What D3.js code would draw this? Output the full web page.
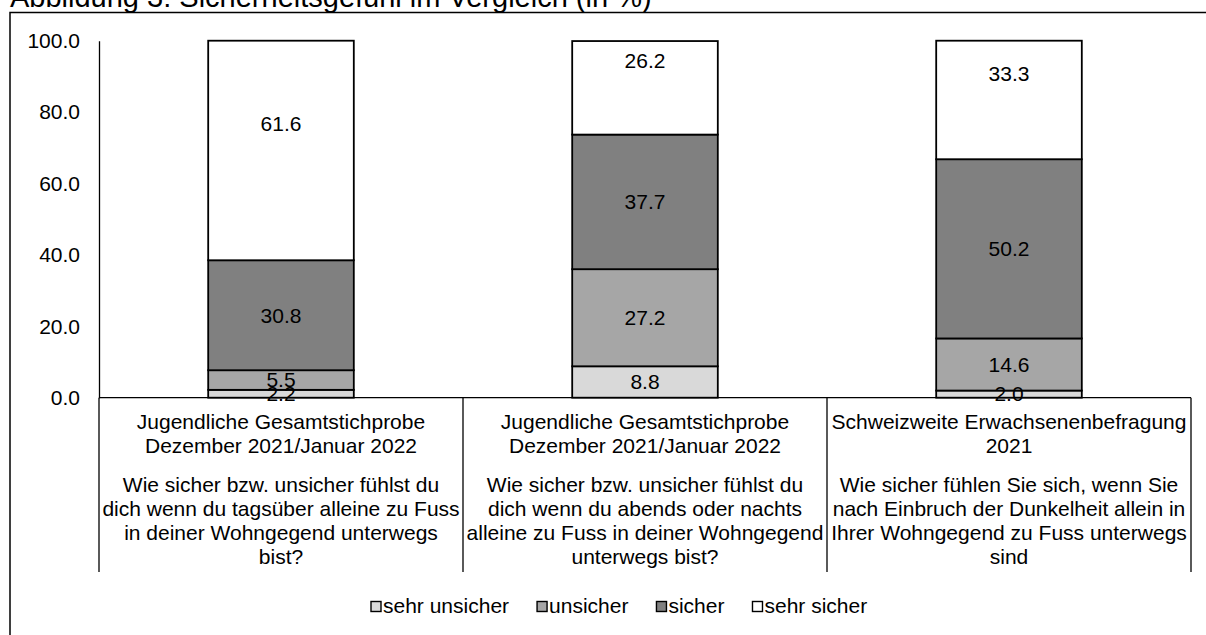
<!DOCTYPE html>
<html>
<head>
<meta charset="utf-8">
<script src="https://cdn.jsdelivr.net/npm/d3@7"></script>
<style>
  body { margin: 0; background: #fff; }
  svg text { font-family: "Liberation Sans", Arial, sans-serif; fill: #000; }
</style>
</head>
<body>
<div id="chart"></div>
<script>
// data
const seriesNames = ['sehr unsicher', 'unsicher', 'sicher', 'sehr sicher'];
const sehrUnsicher = [2.2, 8.8, 2.0];
const unsicher = [5.5, 27.2, 14.6];
const sicher = [30.8, 37.7, 50.2];
const sehrSicher = [61.6, 26.2, 33.3];
const yTicks = [0, 20, 40, 60, 80, 100];

const groupLines = [
  ['Jugendliche Gesamtstichprobe', 'Dezember 2021/Januar 2022'],
  ['Jugendliche Gesamtstichprobe', 'Dezember 2021/Januar 2022'],
  ['Schweizweite Erwachsenenbefragung', '2021']
];
const questionLines = [
  ['Wie sicher bzw. unsicher fühlst du', 'dich wenn du tagsüber alleine zu Fuss', 'in deiner Wohngegend unterwegs', 'bist?'],
  ['Wie sicher bzw. unsicher fühlst du', 'dich wenn du abends oder nachts', 'alleine zu Fuss in deiner Wohngegend', 'unterwegs bist?'],
  ['Wie sicher fühlen Sie sich, wenn Sie', 'nach Einbruch der Dunkelheit allein in', 'Ihrer Wohngegend zu Fuss unterwegs', 'sind']
];

const colors = ['#d9d9d9', '#a6a6a6', '#808080', '#ffffff'];
const fs = 21;
// the top labels sit in the middle of the (clipped) segment running up to ~115
const labelCeil = 115;

const W = 1206, H = 635;
const svg = d3.select('#chart').append('svg')
    .attr('width', W).attr('height', H);

// title (cut off at the top in the original)
svg.append('text')
    .attr('x', 10).attr('y', 6.5)
    .style('font-size', '29px')
    .text('Abbildung 3: Sicherheitsgefühl im Vergleich (in %)');

// outer frame
svg.append('rect')
    .attr('x', 10).attr('y', 12.5)
    .attr('width', W + 20).attr('height', H)
    .attr('fill', 'none').attr('stroke', '#000').attr('stroke-width', 1.5);

const idx = [0, 1, 2];
const rows = idx.map(i => ({
  key: i,
  'sehr unsicher': sehrUnsicher[i],
  'unsicher': unsicher[i],
  'sicher': sicher[i],
  'sehr sicher': sehrSicher[i]
}));

const x = d3.scaleBand().domain(idx).range([99, 1191]).paddingInner(0).paddingOuter(0);
const y = d3.scaleLinear().domain([0, 100]).range([397.7, 40.7]);
const barW = x.bandwidth() * 0.4;

const stack = d3.stack().keys(seriesNames)(rows);

const g = svg.append('g');
stack.forEach((layer, li) => {
  layer.forEach((d, i) => {
    const top = Math.min(d[1], 100);
    g.append('rect')
        .attr('x', x(i) + (x.bandwidth() - barW) / 2)
        .attr('y', y(top))
        .attr('width', barW)
        .attr('height', y(d[0]) - y(top))
        .attr('fill', colors[li])
        .attr('stroke', '#000')
        .attr('stroke-width', 1.8);
  });
});
// value labels
stack.forEach((layer, li) => {
  layer.forEach((d, i) => {
    const top = li === seriesNames.length - 1 ? labelCeil : d[1];
    g.append('text')
        .attr('x', x(i) + x.bandwidth() / 2)
        .attr('y', (y(d[0]) + y(top)) / 2)
        .attr('dy', '0.35em')
        .attr('text-anchor', 'middle')
        .style('font-size', fs + 'px')
        .text(d3.format('.1f')(d[1] - d[0]));
  });
});

// y axis
const yAxis = svg.append('g')
    .attr('transform', 'translate(99,0)')
    .call(d3.axisLeft(y).tickValues(yTicks).tickFormat(d3.format('.1f')).tickSize(0).tickPadding(19));
yAxis.select('.domain').attr('stroke', '#000').attr('stroke-width', 1.3);
yAxis.selectAll('text').style('font-size', fs + 'px').style('font-family', '"Liberation Sans", Arial, sans-serif');

// x axis line and category separators
svg.append('line')
    .attr('x1', 99).attr('x2', 1191).attr('y1', y(0)).attr('y2', y(0))
    .attr('stroke', '#000').attr('stroke-width', 1.3);
[99, 1191].concat(idx.slice(1).map(i => x(i))).forEach(px => {
  svg.append('line')
      .attr('x1', px).attr('x2', px).attr('y1', y(0)).attr('y2', 572)
      .attr('stroke', '#000').attr('stroke-width', 1.3);
});

// category labels
const lineY = [429, 453];
const qY = [492, 516, 540, 564];
idx.forEach(i => {
  const cx = x(i) + x.bandwidth() / 2;
  groupLines[i].forEach((t, k) => {
    svg.append('text').attr('x', cx).attr('y', lineY[k])
        .attr('text-anchor', 'middle').style('font-size', fs + 'px').text(t);
  });
  questionLines[i].forEach((t, k) => {
    svg.append('text').attr('x', cx).attr('y', qY[k])
        .attr('text-anchor', 'middle').style('font-size', fs + 'px').text(t);
  });
});

// legend
const leg = svg.append('g');
let lx = 371;
seriesNames.forEach((name, i) => {
  leg.append('rect')
      .attr('x', lx).attr('y', 601.5).attr('width', 10).attr('height', 10)
      .attr('fill', colors[i]).attr('stroke', '#000').attr('stroke-width', 1.4);
  const t = leg.append('text')
      .attr('x', lx + 12).attr('y', 613)
      .style('font-size', fs + 'px').text(name);
  lx += 12 + t.node().getComputedTextLength() + 28;
});
</script>
</body>
</html>
